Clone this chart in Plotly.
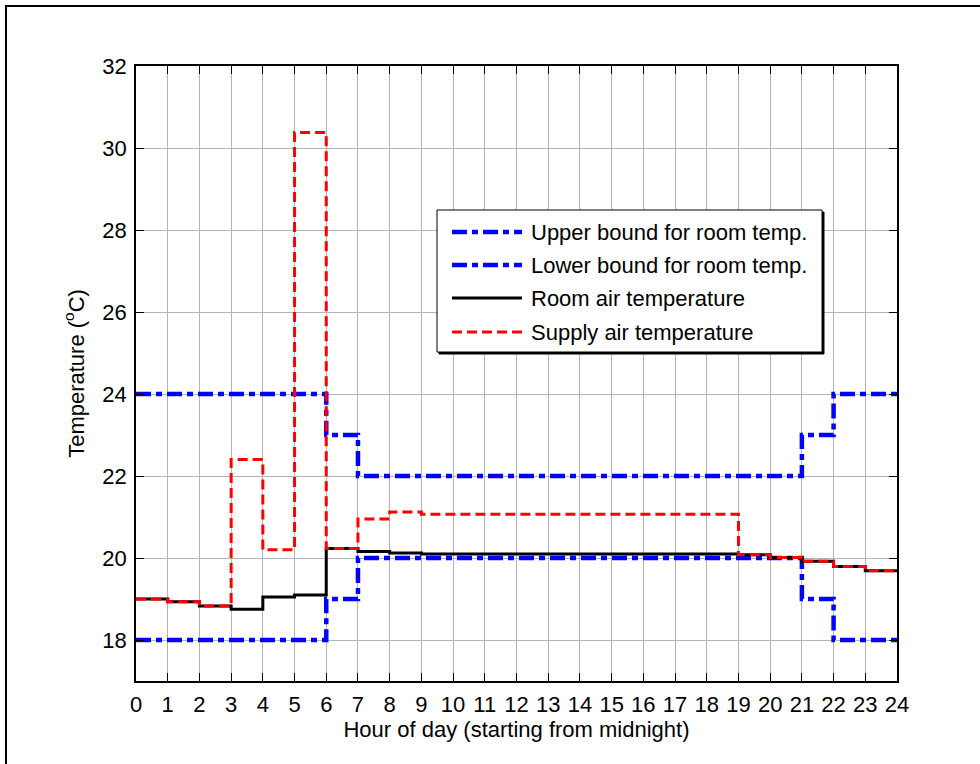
import plotly.graph_objects as go

# Hourly schedule, one value per hour starting at midnight
hours = list(range(25))
upper_bound = [24, 24, 24, 24, 24, 24, 23, 22, 22, 22, 22, 22, 22, 22, 22, 22, 22, 22, 22, 22, 22, 23, 24, 24]
lower_bound = [18, 18, 18, 18, 18, 18, 19, 20, 20, 20, 20, 20, 20, 20, 20, 20, 20, 20, 20, 20, 20, 19, 18, 18]
room_air = [19.00, 18.93, 18.83, 18.75, 19.05, 19.10, 20.23, 20.16, 20.12, 20.10, 20.10, 20.10,
            20.10, 20.10, 20.10, 20.10, 20.10, 20.10, 20.10, 20.08, 20.01, 19.92, 19.79, 19.69]
supply_air = [19.00, 18.93, 18.83, 22.40, 20.20, 30.38, 20.23, 20.95, 21.12, 21.07, 21.07, 21.07,
              21.07, 21.07, 21.07, 21.07, 21.07, 21.07, 21.07, 20.08, 20.01, 19.92, 19.79, 19.69]

names = ["Upper bound for room temp.", "Lower bound for room temp.",
         "Room air temperature", "Supply air temperature"]
y_ticks = [18, 20, 22, 24, 26, 28, 30, 32]

FONT = "Liberation Sans, Arial"
FSIZE = 22
BLUE_DASH = "15px,5px,6px,5px"
RED_DASH = "10px,5px"
styles = [
    dict(color="#0000ff", width=4.5, dash=BLUE_DASH),
    dict(color="#0000ff", width=4.5, dash=BLUE_DASH),
    dict(color="#000000", width=3, dash="solid"),
    dict(color="#ff0000", width=3, dash=RED_DASH),
]

fig = go.Figure()
for name, series, style in zip(names, [upper_bound, lower_bound, room_air, supply_air], styles):
    fig.add_trace(go.Scatter(
        x=hours, y=series + [series[-1]], mode="lines", line_shape="hv",
        line=style, name=name, showlegend=False,
    ))

# Plot area in pixels: left 136, right 897, top 66, bottom 681
W, H = 980, 764
L, R, T, B = 136, 897, 66, 681


def px(x):
    return (x - L) / (R - L)


def py(y):
    return (B - y) / (B - T)


shapes = []
# outer frame of the figure
shapes.append(dict(type="rect", xref="paper", yref="paper",
                   x0=px(6), x1=px(1000), y0=py(6), y1=py(800),
                   line=dict(color="black", width=2), fillcolor="rgba(0,0,0,0)"))

# legend box with a small shadow
shapes.append(dict(type="rect", xref="paper", yref="paper",
                   x0=px(439), x1=px(824), y0=py(212), y1=py(354),
                   line=dict(color="black", width=1), fillcolor="black"))
shapes.append(dict(type="rect", xref="paper", yref="paper",
                   x0=px(437), x1=px(822), y0=py(210), y1=py(352),
                   line=dict(color="black", width=1), fillcolor="white"))

annotations = []
row_y = [232, 265, 298, 332]
for name, style, ry in zip(names, styles, row_y):
    shapes.append(dict(type="line", xref="paper", yref="paper",
                       x0=px(452), x1=px(522), y0=py(ry), y1=py(ry),
                       line=style))
    annotations.append(dict(xref="paper", yref="paper", x=px(529), y=py(ry),
                            text=name, showarrow=False, xanchor="left", yanchor="middle",
                            font=dict(family=FONT, size=FSIZE, color="black")))

axis_common = dict(
    showline=True, linecolor="black", linewidth=1.5, mirror="allticks",
    ticks="inside", ticklen=8, tickcolor="black", tickwidth=1,
    showgrid=True, gridcolor="#b4b4b4", gridwidth=1, zeroline=False,
    tickfont=dict(family=FONT, size=FSIZE, color="black"),
)

fig.update_layout(
    width=W, height=H, autosize=False,
    margin=dict(l=L, r=W - R, t=T, b=H - B),
    paper_bgcolor="white", plot_bgcolor="white",
    shapes=shapes, annotations=annotations,
    xaxis=dict(range=[0, 24], tickmode="array", tickvals=hours, ticklabelstandoff=3,
               title=dict(text="Hour of day (starting from midnight)", standoff=4,
                          font=dict(family=FONT, size=FSIZE, color="black")),
               **axis_common),
    yaxis=dict(range=[17, 32], tickmode="array", tickvals=y_ticks, ticklabelstandoff=3,
               title=dict(text="Temperature (<sup>o</sup>C)", standoff=12,
                          font=dict(family=FONT, size=FSIZE, color="black")),
               **axis_common),
)

fig.write_html("out.html")
